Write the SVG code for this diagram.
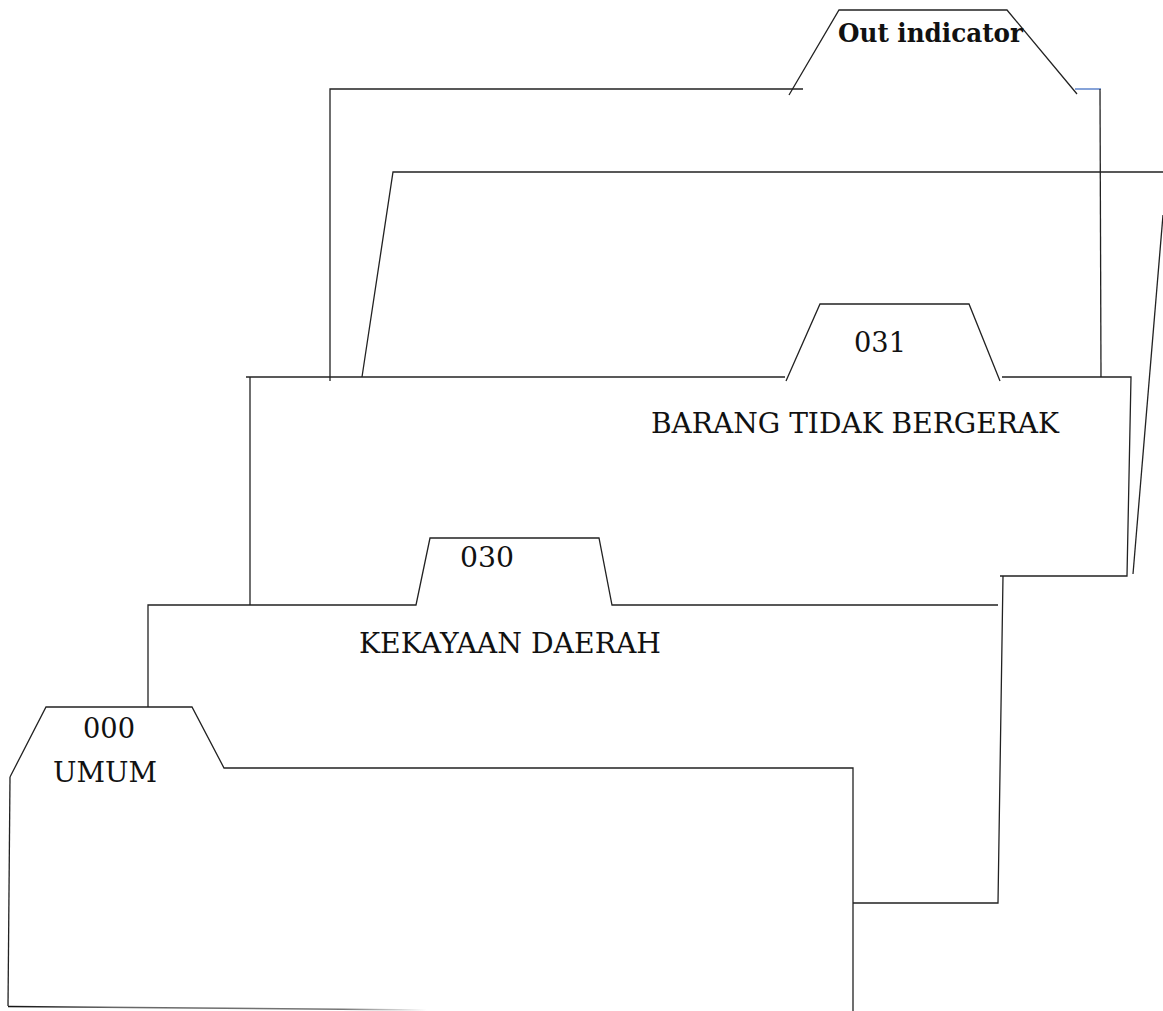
<svg xmlns="http://www.w3.org/2000/svg" width="1163" height="1011" viewBox="0 0 1163 1011">
<style>
.ln{fill:none;stroke:#222;stroke-width:1.3;stroke-linecap:butt;stroke-linejoin:miter}
.t{font-family:"DejaVu Serif","Liberation Serif",serif;font-size:27.5px;fill:#111}
.b{font-weight:bold;font-size:26px}
</style>
<defs>
<linearGradient id="fade" gradientUnits="userSpaceOnUse" x1="8" y1="0" x2="427" y2="0">
<stop offset="0" stop-color="#111"/>
<stop offset="0.25" stop-color="#666"/>
<stop offset="0.8" stop-color="#777"/>
<stop offset="1" stop-color="#fff"/>
</linearGradient>
</defs>
<rect width="1163" height="1011" fill="#fff"/>
<g id="folder-out-indicator">
<polyline class="ln" points="330,381 330,89 803,89"/>
<polyline class="ln" points="789,95 839,10 1007,10 1077,94"/>
<line x1="1075" y1="89" x2="1101" y2="89" stroke="#4472c4" stroke-width="1.3"/>
<line class="ln" x1="1100" y1="89" x2="1101" y2="377"/>
<text class="t b" x="838" y="42" textLength="185" lengthAdjust="spacingAndGlyphs">Out indicator</text>
</g>
<g id="folder-back">
<polyline class="ln" points="362,377 393,172 1163,172"/>
<line class="ln" x1="1163" y1="215" x2="1133" y2="574"/>
</g>
<g id="folder-031">
<polyline class="ln" points="246,377 785,377"/>
<polyline class="ln" points="786,381 820,304 969,304 1000,381"/>
<polyline class="ln" points="1002,377 1131,377 1127,576 1000,576"/>
<line class="ln" x1="250" y1="377" x2="250" y2="605"/>
<text class="t" x="854" y="352" textLength="52" lengthAdjust="spacingAndGlyphs">031</text>
<text class="t" x="651" y="433" textLength="408" lengthAdjust="spacingAndGlyphs">BARANG TIDAK BERGERAK</text>
</g>
<g id="folder-030">
<polyline class="ln" points="148,707 148,605 416,605 430,538 599,538 612,605 998,605"/>
<polyline class="ln" points="1003,576 998,903 853,903"/>
<text class="t" x="460" y="567" textLength="54" lengthAdjust="spacingAndGlyphs">030</text>
<text class="t" x="359" y="653" textLength="302" lengthAdjust="spacingAndGlyphs">KEKAYAAN DAERAH</text>
</g>
<g id="folder-000">
<polyline class="ln" points="10,777 46,707 192,707 224,768 853,768 853,1011"/>
<line class="ln" x1="10" y1="777" x2="8" y2="1006"/>
<line x1="8" y1="1006.5" x2="427" y2="1010" stroke="url(#fade)" stroke-width="1.5"/>
<text class="t" x="83" y="738" textLength="52" lengthAdjust="spacingAndGlyphs">000</text>
<text class="t" x="53" y="782" textLength="104" lengthAdjust="spacingAndGlyphs">UMUM</text>
</g>
<g id="connectors"/>
</svg>
